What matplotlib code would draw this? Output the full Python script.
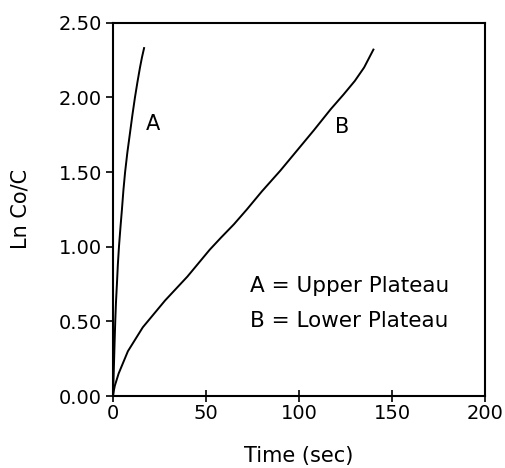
import matplotlib
matplotlib.use("Agg")
import matplotlib.pyplot as plt

# values
time_a = [0, 0.1, 0.3, 0.6, 0.9, 1.2, 1.6, 2.1, 2.6, 3.2, 4.0, 4.8, 5.6,
          6.5, 7.7, 9.0, 10.4, 11.8, 13.1, 14.5, 15.6, 16.7]
lnc_a = [0, 0.05, 0.12, 0.25, 0.38, 0.50, 0.63, 0.75, 0.88, 1.00, 1.13, 1.25,
         1.38, 1.50, 1.63, 1.75, 1.88, 2.00, 2.10, 2.20, 2.27, 2.33]

time_b = [0, 0.5, 1, 2, 3, 4, 6, 8, 10, 12, 14, 16, 20, 24, 28, 34, 40, 46,
          52, 58, 65, 72, 80, 90, 100, 108, 117, 124, 130, 135, 140]
lnc_b = [0, 0.04, 0.07, 0.11, 0.15, 0.18, 0.24, 0.30, 0.34, 0.38, 0.42, 0.46,
         0.52, 0.58, 0.64, 0.72, 0.80, 0.89, 0.98, 1.06, 1.15, 1.25, 1.37,
         1.51, 1.66, 1.78, 1.92, 2.02, 2.11, 2.20, 2.32]

x_ticks = [0, 50, 100, 150, 200]
y_ticks = [0.0, 0.5, 1.0, 1.5, 2.0, 2.5]
legend_lines = ["A = Upper Plateau", "B = Lower Plateau"]

plt.rcParams['font.family'] = ['DejaVu Sans']

fig = plt.figure(figsize=(5.05, 4.68), dpi=100)
ax = fig.add_axes([0.2238, 0.1538, 0.7366, 0.7977])

ax.plot(time_a, lnc_a, color='black', lw=1.4)
ax.plot(time_b, lnc_b, color='black', lw=1.4)

ax.text(21.5, 1.82, "A", fontsize=15, ha='center', va='center')
ax.text(123, 1.80, "B", fontsize=15, ha='center', va='center')
ax.text(73.5, 0.74, legend_lines[0], fontsize=15.5, ha='left', va='center')
ax.text(73.5, 0.50, legend_lines[1], fontsize=15.5, ha='left', va='center')

ax.set_xlim(0, 200)
ax.set_ylim(0, 2.5)
ax.set_xticks(x_ticks)
ax.set_yticks(y_ticks)
ax.set_yticklabels([f"{v:.2f}" for v in y_ticks])
ax.tick_params(axis='x', direction='inout', length=8, width=1.2, labelsize=14, pad=2)
ax.tick_params(axis='y', direction='out', length=5, width=1.2, labelsize=14, pad=3)
for s in ax.spines.values():
    s.set_linewidth(1.5)

ax.set_xlabel("Time (sec)", fontsize=15, labelpad=16)
ax.set_ylabel("Ln Co/C", fontsize=15, labelpad=20)

fig.savefig("out.png", dpi=100)
